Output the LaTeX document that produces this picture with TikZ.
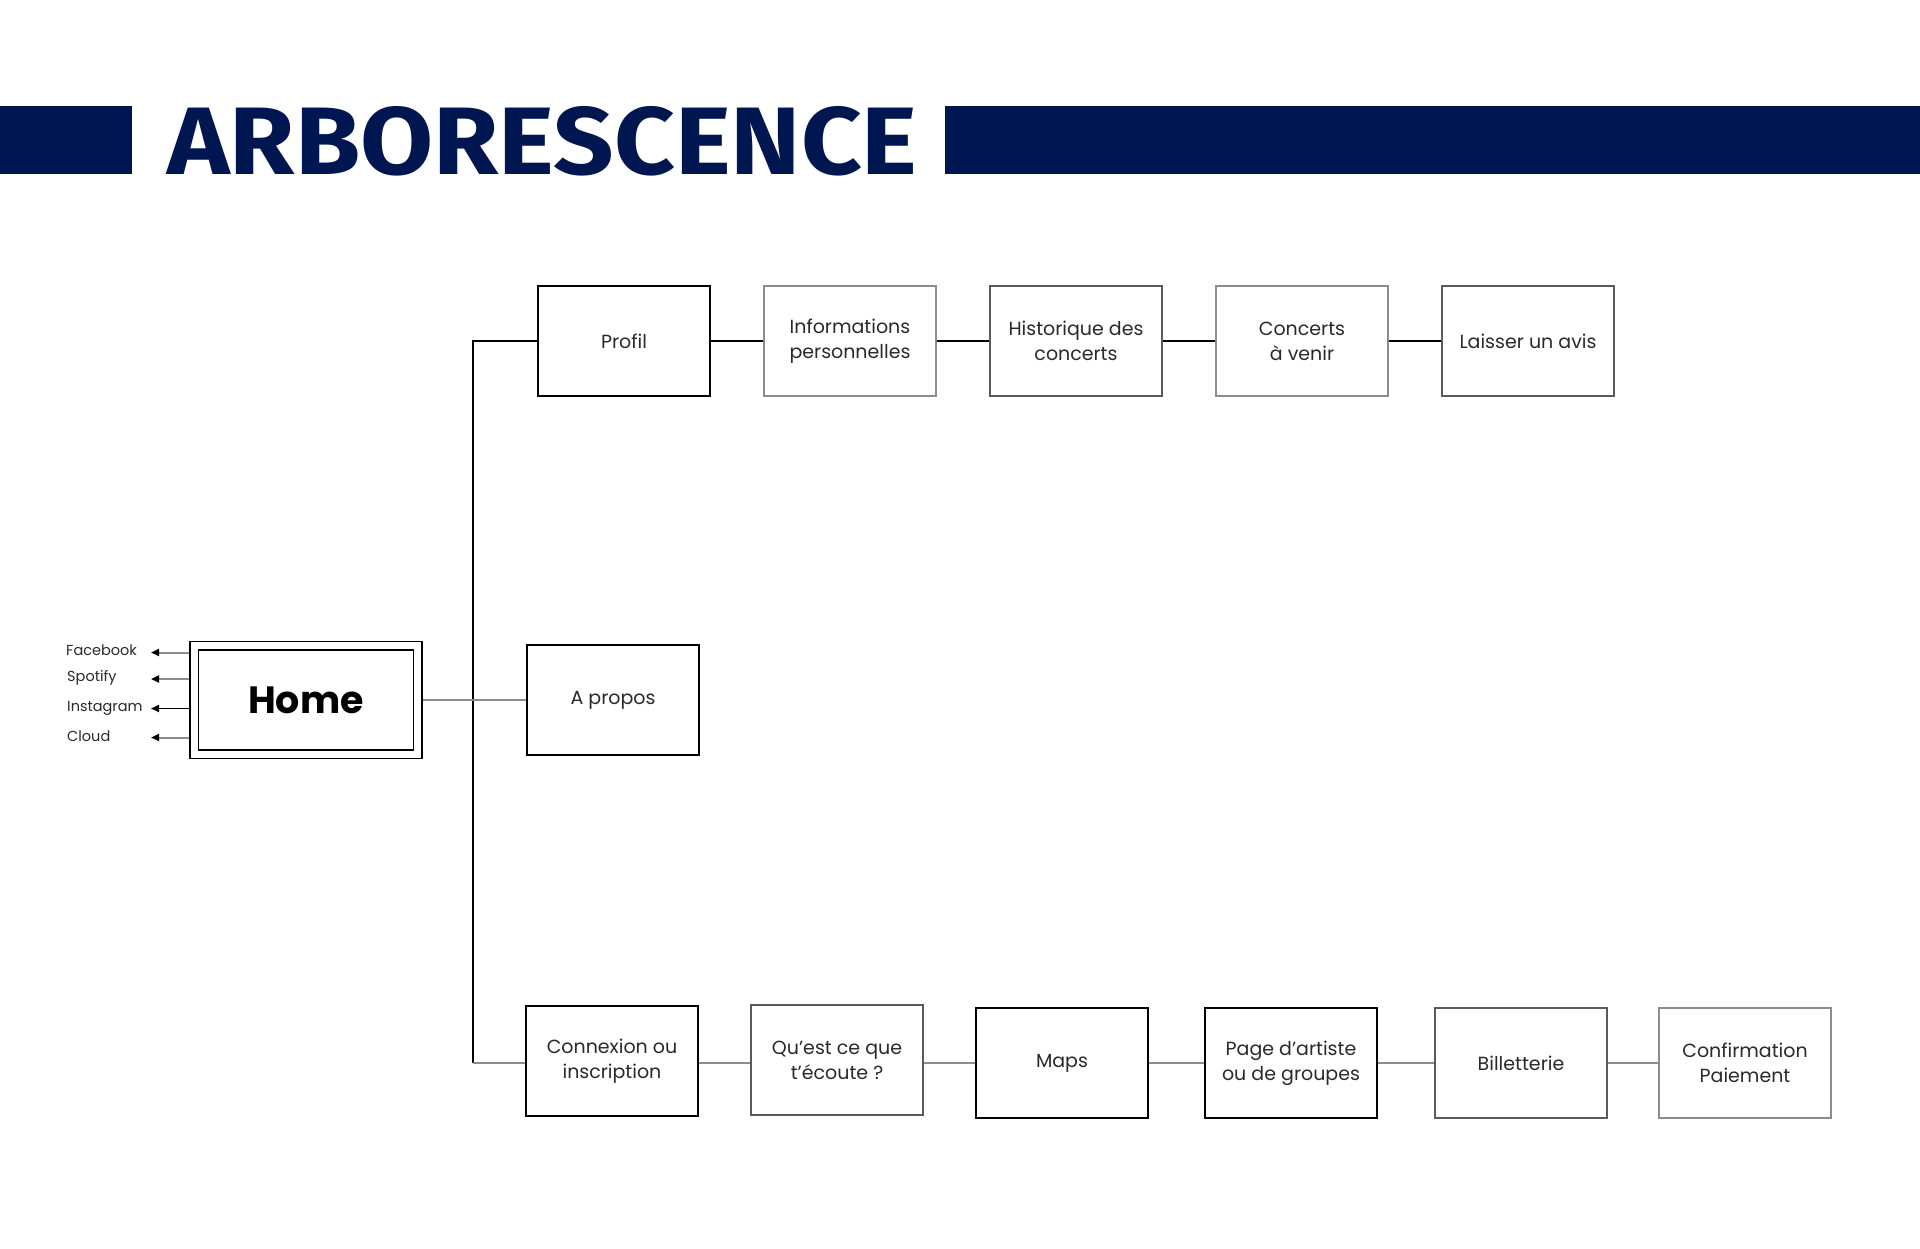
\documentclass[tikz,border=0pt]{standalone}
\usepackage{fontspec}
\setmainfont{Poppins}
\newfontfamily\titlefont{Fira Sans}
\usetikzlibrary{arrows.meta}
\definecolor{navy}{HTML}{001650}
\definecolor{txt}{HTML}{2A2A2A}
\definecolor{lgray}{HTML}{8C8C8C}
\definecolor{mgray}{HTML}{5A5A5A}
\tikzset{
  pagebox/.style={draw=#1, line width=1.8pt, minimum width=172pt, minimum height=110pt,
    align=center, text=txt, inner sep=2pt, font=\fontsize{19}{25}\selectfont},
  pagebox/.default=black,
  blackline/.style={draw=black, line width=1.6pt},
  grayline/.style={draw=lgray, line width=2pt},
  social/.style={anchor=west, text=txt, inner sep=0pt, font=\fontsize{14.5}{17}\selectfont},
  socarrow/.style={grayline, -{Triangle[color=black, width=7pt, length=8pt]}}
}
\begin{document}
\begin{tikzpicture}[x=1pt, y=-1pt]
\useasboundingbox (0,0) rectangle (1920,1248);
\fill[white] (0,0) rectangle (1920,1248);
% title band
\fill[navy] (0,106) rectangle (132,174);
\fill[navy] (945,106) rectangle (1920,174);
\node[inner sep=0pt, anchor=north west, text=navy] (title) at (167,106)
  {\resizebox{750pt}{68pt}{\titlefont\bfseries ARBORESCENCE}};

% Home
\node[draw=black, line width=1.8pt, minimum width=232pt, minimum height=117pt] (home) at (306,700) {};
\node[draw=black, line width=1.8pt, minimum width=215pt, minimum height=100pt,
  font=\fontsize{38}{40}\selectfont\bfseries, text=black] (homein) at (306,700) {Home};

% social links
\coordinate (fb) at (151,652.5);
\coordinate (sp) at (151,679);
\coordinate (ig) at (151,708.5);
\coordinate (cl) at (151,737.5);
\draw[socarrow] (home.west |- fb) -- (fb);
\draw[socarrow] (home.west |- sp) -- (sp);
\draw[socarrow, draw=black, line width=1.6pt] (home.west |- ig) -- (ig);
\draw[socarrow] (home.west |- cl) -- (cl);
\node[social] (lfb) at (66,650.5) {Facebook};
\node[social] (lsp) at (67,677.5) {Spotify};
\node[social] (lig) at (67,708.5) {Instagram};
\node[social] (lcl) at (67,736.5) {Cloud};

% top row
\node[pagebox=black] (profil) at (624,341) {Profil};
\node[pagebox=lgray] (info) at (850,341) {Informations\\personnelles};
\node[pagebox=mgray] (hist) at (1076,341) {Historique des\\concerts};
\node[pagebox=lgray] (conc) at (1302,341) {Concerts\\à venir};
\node[pagebox=mgray] (avis) at (1528,341) {Laisser un avis};

% middle
\node[pagebox=black] (apropos) at (613,700) {A propos};

% bottom row
\node[pagebox=black] (connex) at (612,1061) {Connexion ou\\inscription};
\node[pagebox=mgray] (ecoute) at (837,1060) {Qu’est ce que\\t’écoute ?};
\node[pagebox=black] (maps) at (1062,1063) {Maps};
\node[pagebox=black] (artiste) at (1291,1063) {Page d’artiste\\ou de groupes};
\node[pagebox=mgray] (billet) at (1521,1063) {Billetterie};
\node[pagebox=lgray] (confirm) at (1745,1063) {Confirmation\\Paiement};

% trunk
\coordinate (tk1) at (473,341);
\coordinate (tk2) at (473,1063);
\draw[blackline] (profil.west) -- (tk1) -- (tk2);
\draw[grayline] (tk2) -- (connex.west |- tk2);
\draw[grayline] (home.east) -- (apropos.west);

% top connectors
\draw[blackline] (profil.east) -- (info.west);
\draw[blackline] (info.east) -- (hist.west);
\draw[blackline] (hist.east) -- (conc.west);
\draw[blackline] (conc.east) -- (avis.west);

% bottom connectors
\draw[grayline] (connex.east |- tk2) -- (ecoute.west |- tk2);
\draw[grayline] (ecoute.east |- tk2) -- (maps.west |- tk2);
\draw[grayline] (maps.east) -- (artiste.west);
\draw[grayline] (artiste.east) -- (billet.west);
\draw[grayline] (billet.east) -- (confirm.west);
\end{tikzpicture}
\end{document}
